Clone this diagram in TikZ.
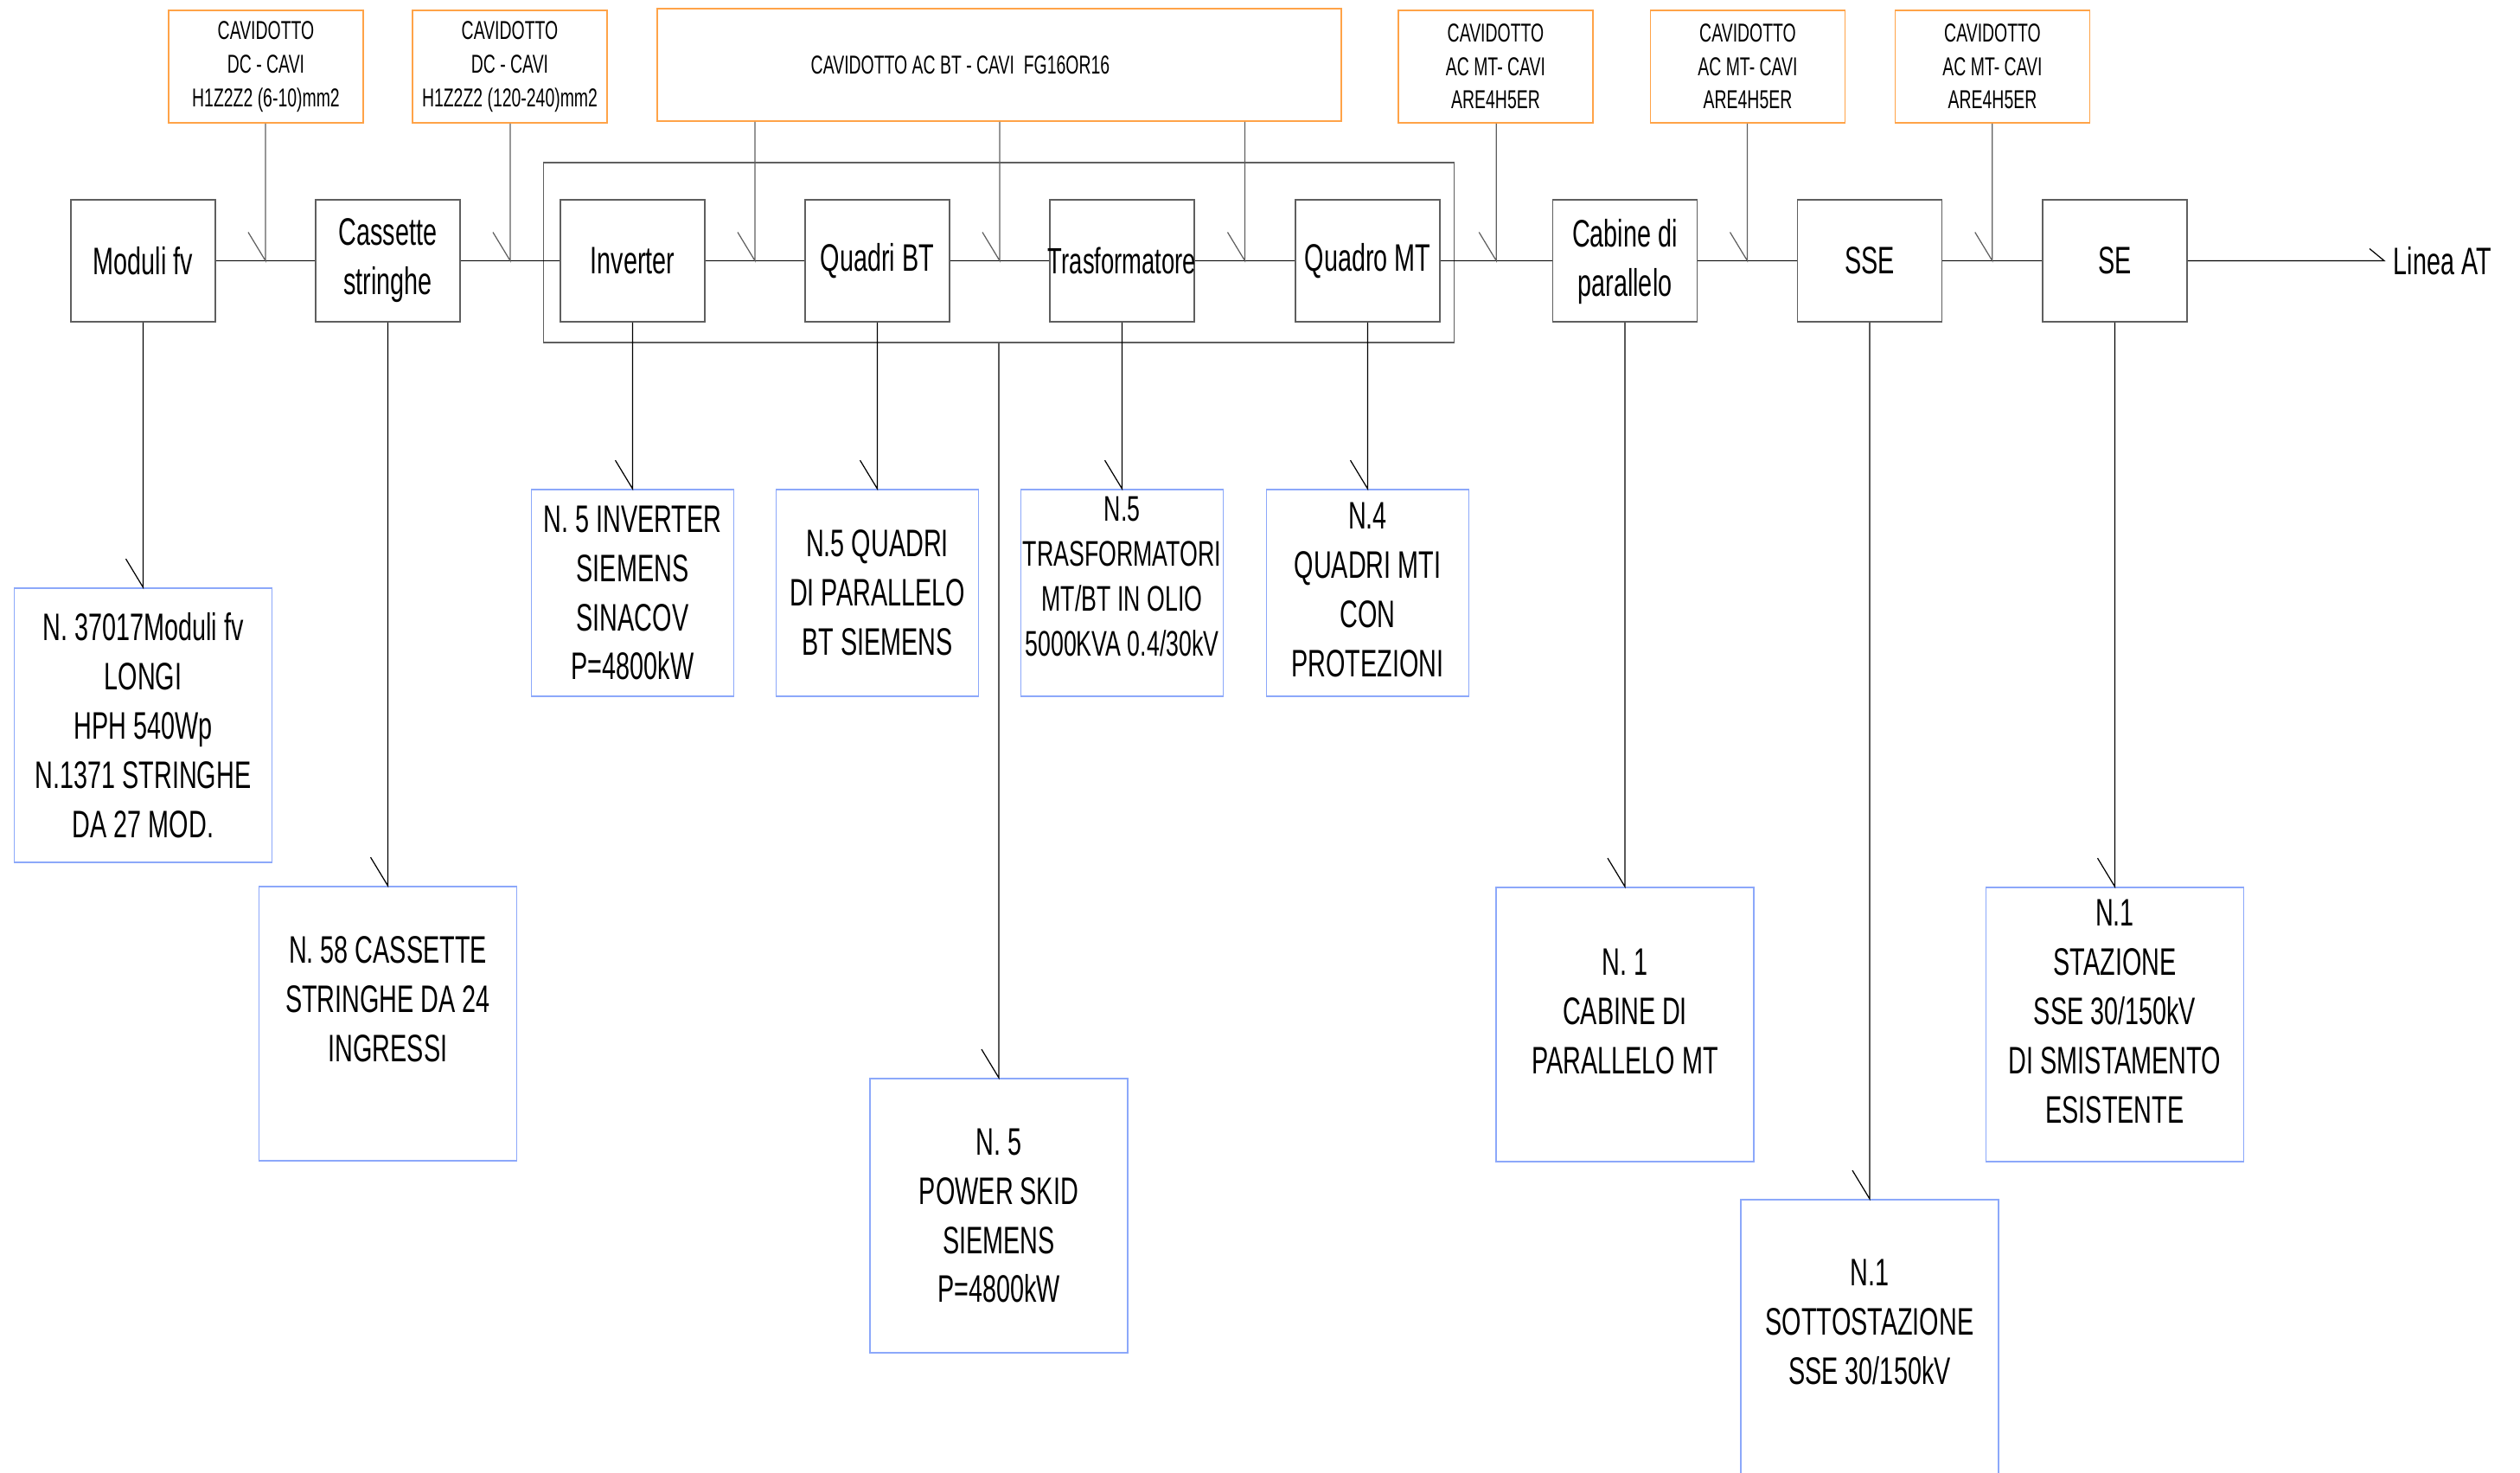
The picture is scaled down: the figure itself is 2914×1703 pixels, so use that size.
\documentclass[tikz,border=0pt]{standalone}
\usepackage{fontspec}
\setmainfont{Liberation Sans}[FakeStretch=0.65]
\usetikzlibrary{calc}
\definecolor{arancio}{RGB}{255,163,72}
\definecolor{azzurro}{RGB}{140,168,250}
\definecolor{grigio}{RGB}{95,95,95}
\tikzset{
  blocco/.style={draw=grigio, line width=0.45pt, minimum width=1.67cm, minimum height=1.41cm,
    inner sep=0pt, align=center, font=\fontsize{12.6}{16.2}\selectfont},
  cavo/.style={draw=arancio, line width=0.45pt, minimum width=2.25cm, minimum height=1.30cm,
    inner sep=0pt, align=center, font=\fontsize{8.5}{11}\selectfont},
  scheda/.style={draw=azzurro, line width=0.45pt, minimum width=2.98cm, minimum height=3.17cm,
    inner sep=0pt, align=center, font=\fontsize{12.6}{16.2}\selectfont},
  stretta/.style={scheda, minimum width=2.34cm, minimum height=2.39cm},
  filo/.style={line width=0.35pt},
  discesa/.style={draw=grigio, line width=0.35pt}
}
\begin{document}
\begin{tikzpicture}[x=0.01cm, y=-0.01cm]
    \path[use as bounding box] (0,0) rectangle (2914,1703);
    \clip (0,0) rectangle (2914,1703);
    % power skid
    \node [draw=grigio, line width=0.45pt, minimum width=10.52cm, minimum height=2.08cm] (grp) at (1155,292) {};
    % catena principale
    \node [blocco] (modfv) at (165.5,301.5) {Moduli fv};
    \node [blocco] (cass) at (448.5,301.5) {Cassette\\stringhe};
    \node [blocco] (inv) at (731.5,301.5) {Inverter};
    \node [blocco] (qbt) at (1014.5,301.5) {Quadri BT};
    \node [blocco] (trasf) at (1297.5,301.5) {\makebox[1.67cm]{\fontsize{12}{15}\selectfont Trasformatore}};
    \node [blocco] (qmt) at (1581.5,301.5) {Quadro MT};
    \node [blocco, text depth=0.08cm] (cab) at (1879,301.5) {Cabine di\\parallelo};
    \node [blocco] (sse) at (2162,301.5) {SSE};
    \node [blocco] (se) at (2445.5,301.5) {SE};
    \node [anchor=west, inner xsep=0.1cm, inner ysep=0pt, font=\fontsize{12.6}{16.2}\selectfont] (lat) at (2757,301.5) {Linea AT};
    % cavidotti
    \node [cavo] (c1) at (307.5,77) {CAVIDOTTO\\DC - CAVI\\H1Z2Z2 (6-10)mm2};
    \node [cavo] (c2) at (589.5,77) {CAVIDOTTO\\DC - CAVI\\H1Z2Z2 (120-240)mm2};
    \node [cavo, minimum width=7.91cm] (cbt) at (1155.5,75) {CAVIDOTTO AC BT - CAVI\ \ FG16OR16\hspace{0.9cm}};
    \node [cavo] (c3) at (1729.5,77) {CAVIDOTTO\\AC MT- CAVI\\ARE4H5ER};
    \node [cavo] (c4) at (2021,77) {CAVIDOTTO\\AC MT- CAVI\\ARE4H5ER};
    \node [cavo] (c5) at (2304,77) {CAVIDOTTO\\AC MT- CAVI\\ARE4H5ER};
    % schede
    \node [scheda] (dmod) at (165.5,838.5) {N. 37017Moduli fv\\LONGI\\HPH 540Wp\\N.1371 STRINGHE\\DA 27 MOD.};
    \node [scheda] (dcass) at (448.5,1183.5) {N. 58 CASSETTE\\STRINGHE DA 24\\INGRESSI\\\mbox{}};
    \node [stretta] (dinv) at (731.5,685.5) {N. 5 INVERTER\\SIEMENS\\SINACOV\\P=4800kW};
    \node [stretta] (dqbt) at (1014.5,685.5) {N.5 QUADRI\\DI PARALLELO\\BT SIEMENS};
    \node [stretta, text depth=0.38cm, font=\fontsize{11.7}{14.8}\selectfont] (dtrasf) at (1297.5,685.5) {N.5\\TRASFORMATORI\\MT/BT IN OLIO\\5000KVA 0.4/30kV};
    \node [stretta, text depth=0.08cm] (dqmt) at (1581.5,685.5) {N.4\\QUADRI MTI\\CON\\PROTEZIONI};
    \node [scheda] (dskid) at (1155,1405.5) {N. 5\\POWER SKID\\SIEMENS\\P=4800kW};
    \node [scheda, text depth=0.3cm] (dcab) at (1879,1184.5) {N. 1\\CABINE DI\\PARALLELO MT};
    \node [scheda, text depth=0.35cm] (dsse) at (2162,1545.5) {N.1\\SOTTOSTAZIONE\\SSE 30/150kV};
    \node [scheda, text depth=0.3cm] (dse) at (2445.5,1184.5) {N.1\\STAZIONE\\SSE 30/150kV\\DI SMISTAMENTO\\ESISTENTE};
    % giunzioni
    \coordinate (j1) at ($(modfv.east)!0.5!(cass.west)$);
    \coordinate (j2) at ($(cass.east)!0.5!(inv.west)$);
    \coordinate (j3) at ($(inv.east)!0.5!(qbt.west)$);
    \coordinate (j4) at ($(qbt.east)!0.5!(trasf.west)$);
    \coordinate (j5) at ($(trasf.east)!0.5!(qmt.west)$);
    \coordinate (j6) at ($(qmt.east)!0.5!(cab.west)$);
    \coordinate (j7) at ($(cab.east)!0.5!(sse.west)$);
    \coordinate (j8) at ($(sse.east)!0.5!(se.west)$);
    \draw [filo] (modfv.east) -- (cass.west);
    \draw [filo] (cass.east) -- (inv.west);
    \draw [filo] (inv.east) -- (qbt.west);
    \draw [filo] (qbt.east) -- (trasf.west);
    \draw [filo] (trasf.east) -- (qmt.west);
    \draw [filo] (qmt.east) -- (cab.west);
    \draw [filo] (cab.east) -- (sse.west);
    \draw [filo] (sse.east) -- (se.west);
    \draw [filo] (se.east) -- (lat.west) -- ++(-17,-14);
    % discese dai cavidotti
    \draw [discesa] (c1.south -| j1) -- (j1) -- ++(-20,-33);
    \draw [discesa] (c2.south -| j2) -- (j2) -- ++(-20,-33);
    \draw [discesa] (cbt.south -| j3) -- (j3) -- ++(-20,-33);
    \draw [discesa] (cbt.south -| j4) -- (j4) -- ++(-20,-33);
    \draw [discesa] (cbt.south -| j5) -- (j5) -- ++(-20,-33);
    \draw [discesa] (c3.south -| j6) -- (j6) -- ++(-20,-33);
    \draw [discesa] (c4.south -| j7) -- (j7) -- ++(-20,-33);
    \draw [discesa] (c5.south -| j8) -- (j8) -- ++(-20,-33);
    % discese alle schede
    \draw [filo] (modfv.south) -- (dmod.north) -- ++(-20,-33);
    \draw [filo] (cass.south) -- (dcass.north) -- ++(-20,-33);
    \draw [filo] (inv.south) -- (dinv.north) -- ++(-20,-33);
    \draw [filo] (qbt.south) -- (dqbt.north) -- ++(-20,-33);
    \draw [filo] (trasf.south) -- (dtrasf.north) -- ++(-20,-33);
    \draw [filo] (qmt.south) -- (dqmt.north) -- ++(-20,-33);
    \draw [filo] (grp.south) -- (dskid.north) -- ++(-20,-33);
    \draw [filo] (cab.south) -- (dcab.north) -- ++(-20,-33);
    \draw [filo] (sse.south) -- (dsse.north) -- ++(-20,-33);
    \draw [filo] (se.south) -- (dse.north) -- ++(-20,-33);
\end{tikzpicture}
\end{document}
